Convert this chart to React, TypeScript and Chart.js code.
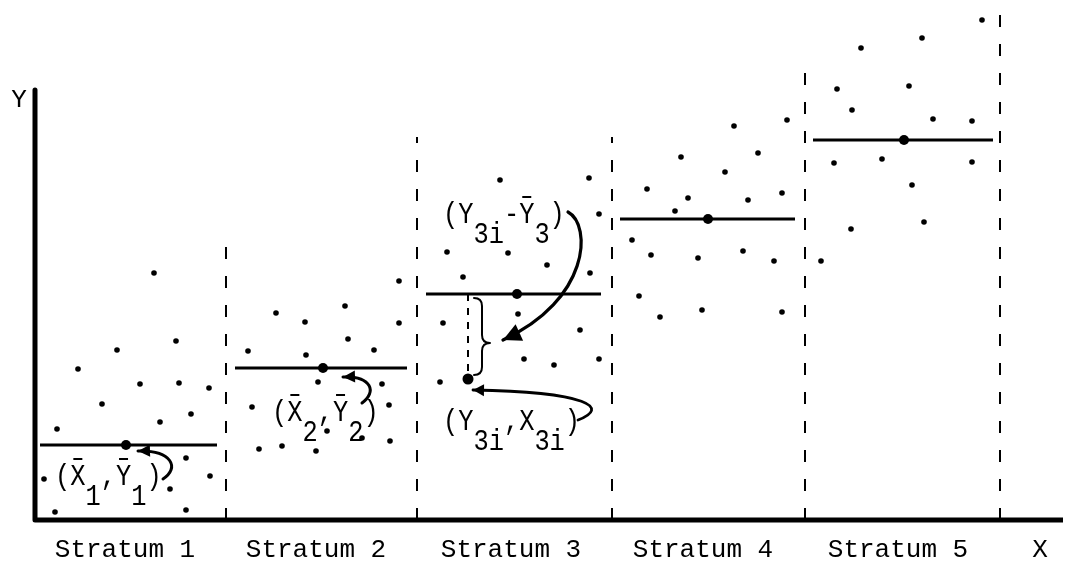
import React, { useEffect, useRef } from "react";
import { Chart, registerables } from "chart.js";
Chart.register(...registerables);

// ---------- categories / tick labels ----------
const strata = ["Stratum 1", "Stratum 2", "Stratum 3", "Stratum 4", "Stratum 5"];
const stratumLabelX = [90, 281, 476, 668, 863];
const xAxisLabel = "X";
const xAxisLabelX = 1005;
const yAxisLabel = "Y";

// ---------- axes & stratum boundaries ----------
const yAxisTop = 430;
const xAxisEnd = 1028;
const boundaryX = [191, 382, 577, 770, 965];
const boundaryTop = [277, 383, 383, 463, 512];

// ---------- observations per stratum ----------
const stratum1X = [119, 141, 82, 43, 105, 144, 174, 67, 156, 125, 22, 151, 175, 9, 135, 20, 151];
const stratum1Y = [247, 179, 170, 151, 136, 137, 132, 116, 106, 98, 91, 62, 44, 41, 31, 8, 10];
const stratum2X = [364, 310, 241, 270, 364, 313, 213, 339, 271, 283, 347, 217, 354, 292, 327, 355, 224, 247, 281];
const stratum2Y = [239, 214, 207, 198, 197, 181, 169, 170, 165, 138, 136, 113, 115, 89, 82, 79, 71, 74, 69];
const stratum3X = [465, 554, 564, 412, 473, 512, 555, 428, 483, 408, 545, 489, 519, 564, 405];
const stratum3Y = [340, 342, 306, 268, 267, 255, 247, 243, 206, 197, 190, 161, 155, 161, 138];
const stratum4X = [699, 752, 723, 646, 690, 612, 653, 713, 747, 640, 597, 616, 663, 708, 739, 604, 625, 667, 747];
const stratum4Y = [394, 400, 367, 363, 348, 331, 322, 320, 327, 309, 280, 265, 262, 269, 259, 224, 203, 210, 208];
const stratum5X = [947, 887, 826, 802, 874, 817, 898, 937, 799, 847, 937, 877, 816, 889, 786];
const stratum5Y = [500, 482, 472, 431, 434, 410, 401, 399, 357, 361, 358, 335, 291, 298, 259];

// ---------- stratum means ----------
const meanX = [91, 288, 482, 673, 869];
const meanY = [75, 152, 226, 301, 380];
const meanLineFrom = [5, 200, 391, 585, 778];
const meanLineTo = [182, 372, 566, 760, 958];

// ---------- highlighted observation (Y3i, X3i) ----------
const highlightX = 433;
const highlightY = 141;

// ---------- annotations ----------
const annotation1 = ["(", "X¯", "_1", ",", "Y¯", "_1", ")"];
const annotation2 = ["(", "X¯", "_2", ",", "Y¯", "_2", ")"];
const annotation3 = ["(", "Y", "_3i", "-", "Y¯", "_3", ")"];
const annotation4 = ["(", "Y", "_3i", ",", "X", "_3i", ")"];
const annotationX = [20, 237, 408, 408];
const annotationY = [35, 99, 297, 90];

// arrows: start, control 1, control 2, tip (data units)
const arrow1 = [[128, 41], [145, 52], [137, 70], [103, 69]];
const arrow2 = [[327, 117], [342, 128], [337, 144], [308, 143]];
const arrow3 = [[533, 308], [557, 295], [555, 220], [468, 180]];
const arrow4 = [[543, 100], [575, 112], [555, 128], [438, 130]];
const braceX = 439;
const braceTop = 222;
const braceBottom = 145;
const braceTipX = 455;
const braceTipY = 177;

const FONT = "'Liberation Mono', 'DejaVu Sans Mono', monospace";

const toPts = (xs: number[], ys: number[]) => xs.map((x, i) => ({ x, y: ys[i] }));

const overlayPlugin = {
  id: "overlay",
  afterDatasetsDraw(chart: any) {
    const ctx: CanvasRenderingContext2D = chart.ctx;
    const sx = chart.scales.x;
    const sy = chart.scales.y;
    const px = (v: number) => sx.getPixelForValue(v);
    const py = (v: number) => sy.getPixelForValue(v);
    ctx.save();
    ctx.fillStyle = "#000";
    ctx.strokeStyle = "#000";

    // axis category labels
    ctx.font = `26px ${FONT}`;
    ctx.textAlign = "center";
    ctx.textBaseline = "alphabetic";
    const labelBase = py(0) + 37;
    strata.forEach((s, i) => ctx.fillText(s, px(stratumLabelX[i]), labelBase));
    ctx.fillText(xAxisLabel, px(xAxisLabelX), labelBase);
    ctx.textBaseline = "middle";
    ctx.fillText(yAxisLabel, px(0) - 16, py(yAxisTop) + 10);

    // annotation text with overbars and subscripts
    const drawTokens = (tokens: string[], x0: number, y0: number) => {
      ctx.font = `27px ${FONT}`;
      ctx.textAlign = "left";
      ctx.textBaseline = "alphabetic";
      const sxScale = 0.94;
      const syScale = 1.12;
      let cx = px(x0);
      const base = py(y0);
      tokens.forEach((tok) => {
        let t = tok;
        let sub = false;
        let bar = false;
        if (t.startsWith("_")) { sub = true; t = t.slice(1); }
        if (t.endsWith("¯")) { bar = true; t = t.slice(0, -1); }
        const y = base + (sub ? 20 : 0);
        ctx.save();
        ctx.translate(cx, y);
        ctx.scale(sxScale, syScale);
        ctx.fillText(t, 0, 0);
        ctx.restore();
        const w = ctx.measureText(t).width * sxScale;
        if (bar) {
          ctx.lineWidth = 2;
          ctx.beginPath();
          ctx.moveTo(cx + w / 2 - 4.5, y - 26);
          ctx.lineTo(cx + w / 2 + 4.5, y - 26);
          ctx.stroke();
        }
        cx += w;
      });
    };
    drawTokens(annotation1, annotationX[0], annotationY[0]);
    drawTokens(annotation2, annotationX[1], annotationY[1]);
    drawTokens(annotation3, annotationX[2], annotationY[2]);
    drawTokens(annotation4, annotationX[3], annotationY[3]);

    // curved arrows
    const drawArrow = (a: number[][], head: number, half: number, lw: number) => {
      const p = a.map(([x, y]) => [px(x), py(y)]);
      ctx.lineWidth = lw;
      ctx.lineCap = "round";
      ctx.beginPath();
      ctx.moveTo(p[0][0], p[0][1]);
      ctx.bezierCurveTo(p[1][0], p[1][1], p[2][0], p[2][1], p[3][0], p[3][1]);
      ctx.stroke();
      const ang = Math.atan2(p[3][1] - p[2][1], p[3][0] - p[2][0]);
      const tx = p[3][0];
      const ty = p[3][1];
      ctx.beginPath();
      ctx.moveTo(tx, ty);
      ctx.lineTo(tx - head * Math.cos(ang) + half * Math.sin(ang), ty - head * Math.sin(ang) - half * Math.cos(ang));
      ctx.lineTo(tx - head * Math.cos(ang) - half * Math.sin(ang), ty - head * Math.sin(ang) + half * Math.cos(ang));
      ctx.closePath();
      ctx.fill();
    };
    drawArrow(arrow1, 12, 6, 3);
    drawArrow(arrow2, 12, 6, 3);
    drawArrow(arrow3, 18, 9, 3.2);
    drawArrow(arrow4, 11, 6, 2.8);

    // brace
    const bx = px(braceX);
    const bt = py(braceTop);
    const bb = py(braceBottom);
    const tx = px(braceTipX);
    const ty = py(braceTipY);
    const w = (tx - bx) / 2;
    const r = 8;
    ctx.lineWidth = 2;
    ctx.beginPath();
    ctx.moveTo(bx, bt);
    ctx.quadraticCurveTo(bx + w, bt, bx + w, bt + r);
    ctx.lineTo(bx + w, ty - r);
    ctx.quadraticCurveTo(bx + w, ty, tx, ty);
    ctx.moveTo(tx, ty);
    ctx.quadraticCurveTo(bx + w, ty, bx + w, ty + r);
    ctx.lineTo(bx + w, bb - r);
    ctx.quadraticCurveTo(bx + w, bb, bx, bb);
    ctx.stroke();

    ctx.restore();
  },
};

export default function App() {
  const ref = useRef<HTMLCanvasElement>(null);
  useEffect(() => {
    document.body.style.margin = "0";
    const lineDs = (data: { x: number; y: number }[], width: number, dash: number[] = []) => ({
      type: "scatter" as const,
      data,
      showLine: true,
      borderColor: "#000",
      backgroundColor: "#000",
      borderWidth: width,
      borderDash: dash,
      pointRadius: 0,
      pointHoverRadius: 0,
      tension: 0,
      fill: false,
      clip: false as any,
    });
    const pointDs = (data: { x: number; y: number }[], radius: number) => ({
      type: "scatter" as const,
      data,
      showLine: false,
      pointRadius: radius,
      pointBackgroundColor: "#000",
      pointBorderWidth: 0,
      clip: false as any,
    });

    const datasets: any[] = [];
    datasets.push({
      ...lineDs([{ x: 0, y: yAxisTop }, { x: 0, y: 0 }, { x: xAxisEnd, y: 0 }], 5),
      borderJoinStyle: "round",
    });
    boundaryX.forEach((bx, i) => datasets.push(lineDs([{ x: bx, y: 0 }, { x: bx, y: boundaryTop[i] }], 2, [12, 17])));
    meanX.forEach((_, i) =>
      datasets.push(lineDs([{ x: meanLineFrom[i], y: meanY[i] }, { x: meanLineTo[i], y: meanY[i] }], 3))
    );
    datasets.push(lineDs([{ x: highlightX, y: meanY[2] }, { x: highlightX, y: highlightY }], 2, [7, 7]));
    datasets.push(pointDs(toPts(stratum1X, stratum1Y), 2.8));
    datasets.push(pointDs(toPts(stratum2X, stratum2Y), 2.8));
    datasets.push(pointDs(toPts(stratum3X, stratum3Y), 2.8));
    datasets.push(pointDs(toPts(stratum4X, stratum4Y), 2.8));
    datasets.push(pointDs(toPts(stratum5X, stratum5Y), 2.8));
    datasets.push(pointDs(toPts(meanX, meanY), 5));
    datasets.push(pointDs([{ x: highlightX, y: highlightY }], 5.5));

    const chart = new Chart(ref.current as HTMLCanvasElement, {
      type: "scatter",
      data: { datasets },
      options: {
        animation: false,
        responsive: false,
        events: [],
        layout: { padding: 0, autoPadding: false },
        plugins: { legend: { display: false }, tooltip: { enabled: false } },
        scales: {
          x: { type: "linear", min: -35, max: 1030, display: false },
          y: { type: "linear", min: -51, max: 520, display: false },
        },
      },
      plugins: [overlayPlugin],
    } as any);
    return () => chart.destroy();
  }, []);
  return (
    <div style={{ position: "absolute", left: 0, top: 0, width: 1065, height: 571, background: "#fff" }}>
      <canvas ref={ref} width={1065} height={571} style={{ display: "block", width: 1065, height: 571 }} />
    </div>
  );
}
